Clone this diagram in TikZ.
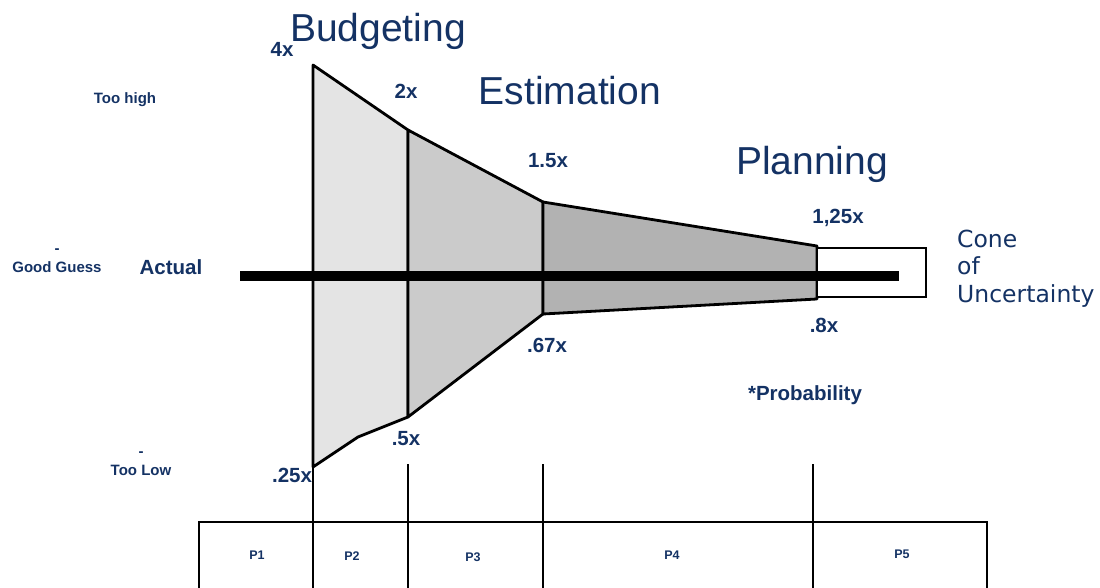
\documentclass[tikz,border=0pt]{standalone}
\usepackage{fontspec}
\setmainfont{Liberation Sans}
\newfontfamily\conefont{DejaVu Sans}
\usepackage{xcolor}
\usepackage{tikz}
\definecolor{navy}{RGB}{20,50,100}
\definecolor{fanA}{RGB}{228,228,228}
\definecolor{fanB}{RGB}{203,203,203}
\definecolor{fanC}{RGB}{178,178,178}

\begin{document}
\begin{tikzpicture}[x=1pt, y=-1pt]
\tikzstyle{phase}=[text=navy, inner sep=0pt, anchor=base, font=\fontsize{39}{44}\selectfont]
\tikzstyle{mult}=[text=navy, inner sep=0pt, anchor=base, font=\bfseries\fontsize{20.5}{24}\selectfont]
\tikzstyle{side}=[text=navy, inner sep=0pt, align=center, font=\bfseries\fontsize{15}{19}\selectfont]
\tikzstyle{period}=[text=navy, font=\bfseries\fontsize{12.5}{14}\selectfont]
\tikzstyle{rim}=[draw, line width=2.8pt, line join=round]

\useasboundingbox (0,0) rectangle (1100,588);
\clip (0,0) rectangle (1100,588);

% corners of the cone
\coordinate (hi4) at (313,65);
\coordinate (hi2) at (408,130);
\coordinate (hi15) at (543,202);
\coordinate (hi125) at (817,246);
\coordinate (lo8) at (817,299);
\coordinate (lo67) at (543,314);
\coordinate (lo5) at (408,417);
\coordinate (kink) at (358,437);
\coordinate (lo25) at (313,467);

\path[rim, fill=fanA] (hi4) -- (hi2) -- (lo5) -- (kink) -- (lo25) -- cycle;
\path[rim, fill=fanB] (hi2) -- (hi15) -- (lo67) -- (lo5) -- cycle;
\path[rim, fill=fanC] (hi15) -- (hi125) -- (lo8) -- (lo67) -- cycle;

% box round the end of the actual line
\draw[line width=2.2pt, fill=white] (817,248) rectangle (926,297);
\coordinate (act0) at (240,276);
\coordinate (act1) at (899,276);
\draw[line width=10pt] (act0) -- (act1);

% phase strip
\draw[line width=2.8pt] (199,522) rectangle (987,600);
\draw[line width=2.8pt] (lo25) -- (313,600);
\foreach \x in {408,543,813}
  \draw[line width=2.8pt] (\x,464) -- (\x,600);
\node[period] (p1) at (257,555) {P1};
\node[period] (p2) at (352,556) {P2};
\node[period] (p3) at (473,557) {P3};
\node[period] (p4) at (672,555) {P4};
\node[period] (p5) at (902,554) {P5};

% phase titles
\node[phase] (budget) at (378,42) {Budgeting};
\node[phase] (estim) at (570,105) {Estimation};
\node[phase] (plan) at (812,175) {Planning};

% multipliers
\node[mult] (m4) at (282,57) {4x};
\node[mult] (m2) at (406,99) {2x};
\node[mult] (m15) at (548,168) {1.5x};
\node[mult] (m125) at (838,223) {1,25x};
\node[mult] (m8) at (824,332) {.8x};
\node[mult] (m67) at (547,352) {.67x};
\node[mult] (m5) at (406,445) {.5x};
\node[mult] (m25) at (292,482) {.25x};
\node[mult] (prob) at (805,400) {*Probability};
\node[mult] (actual) at (171,274) {Actual};

% left hand scale
\node[side, anchor=base] (high) at (125,104) {Too high};
\node[side, anchor=south] (guess) at (57,273) {-\\Good Guess};
\node[side, anchor=south] (low) at (141,476) {-\\Too Low};

\node[text=navy, anchor=base west, inner sep=0pt, align=left,
  font=\conefont\fontsize{23.5}{27.5}\selectfont] (cone) at (957,302)
  {Cone\\of\\Uncertainty};
\end{tikzpicture}
\end{document}
